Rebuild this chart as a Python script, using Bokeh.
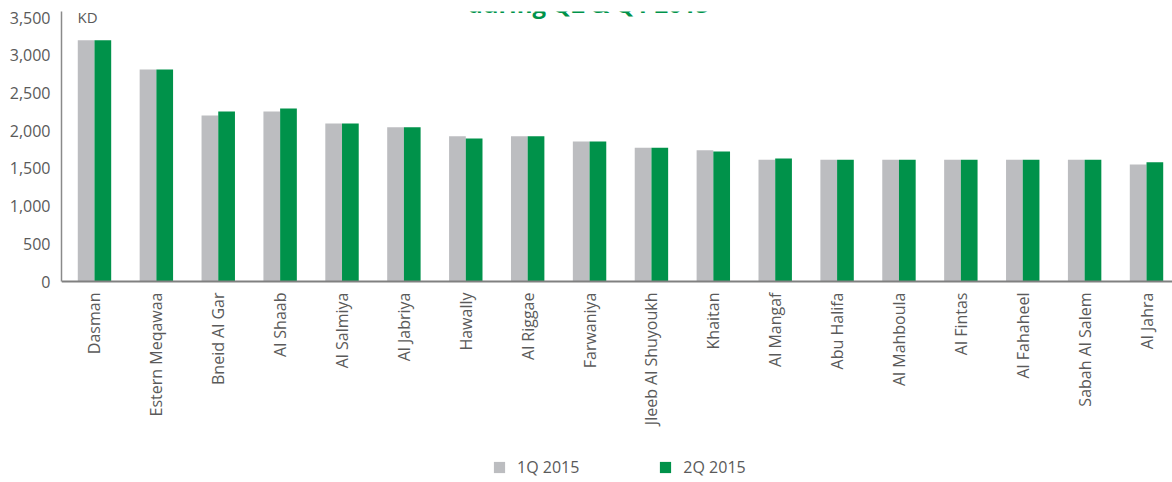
import math
from bokeh.plotting import figure
from bokeh.models import (Range1d, FixedTicker, Legend, LegendItem, Label,
                          ColumnDataSource, NumeralTickFormatter)
from bokeh.transform import dodge
from bokeh.embed import file_html
from bokeh.resources import INLINE

districts = ["Dasman", "Estern Meqawaa", "Bneid Al Gar", "Al Shaab", "Al Salmiya",
             "Al Jabriya", "Hawally", "Al Riggae", "Farwaniya", "Jleeb Al Shuyoukh",
             "Khaitan", "Al Mangaf", "Abu Halifa", "Al Mahboula", "Al Fintas",
             "Al Fahaheel", "Sabah Al Salem", "Al Jahra"]
q1_2015 = [3200, 2810, 2200, 2255, 2095, 2045, 1925, 1925, 1855, 1775,
           1740, 1615, 1615, 1615, 1615, 1615, 1615, 1550]
q2_2015 = [3200, 2810, 2255, 2295, 2095, 2045, 1895, 1925, 1855, 1775,
           1725, 1630, 1615, 1615, 1615, 1615, 1615, 1580]
y_ticks = [0, 500, 1000, 1500, 2000, 2500, 3000, 3500]
series_labels = ["1Q 2015", "2Q 2015"]
title_text = "during Q2 & Q1 2015"
unit_text = "KD"

GRAY = "#bcbdc0"
GREEN = "#00924a"
TEXT = "#5a5a5a"
FONT = "Open Sans"

idx = list(range(len(districts)))
src = ColumnDataSource(dict(x=idx, q1=q1_2015, q2=q2_2015))

p = figure(width=1172, height=482,
           x_range=Range1d(-0.533, 17.42), y_range=Range1d(-2665, 3580),
           output_backend="svg", toolbar_location=None,
           min_border_left=61, min_border_right=0,
           min_border_top=11, min_border_bottom=0)
p.outline_line_color = None
p.xgrid.visible = False
p.ygrid.visible = False
p.background_fill_color = None
p.border_fill_color = "white"

r1 = p.vbar(x=dodge("x", -0.135, range=p.x_range), top="q1", width=0.27,
            source=src, fill_color=GRAY, line_color=None)
r2 = p.vbar(x=dodge("x", 0.135, range=p.x_range), top="q2", width=0.27,
            source=src, fill_color=GREEN, line_color=None)

# y axis
p.yaxis.ticker = FixedTicker(ticks=y_ticks)
p.yaxis.formatter = NumeralTickFormatter(format="0,0")
p.yaxis.bounds = (0, 3580)
p.yaxis.major_tick_line_color = None
p.yaxis.minor_tick_line_color = None
p.yaxis.major_tick_out = 0
p.yaxis.major_tick_in = 0
p.yaxis.axis_line_color = "#8a8a8a"
p.yaxis.axis_line_width = 1.5
p.yaxis.major_label_standoff = 11
p.yaxis.major_label_text_font = FONT
p.yaxis.major_label_text_font_size = "16px"
p.yaxis.major_label_text_color = TEXT

# x axis, pinned at value 0 inside the frame
p.xaxis.fixed_location = 0
p.xaxis.ticker = FixedTicker(ticks=idx)
p.xaxis.major_label_overrides = {i: d for i, d in zip(idx, districts)}
p.xaxis.major_label_orientation = math.pi / 2
p.xaxis.major_tick_line_color = None
p.xaxis.minor_tick_line_color = None
p.xaxis.major_tick_out = 0
p.xaxis.major_tick_in = 0
p.xaxis.axis_line_color = "#808080"
p.xaxis.axis_line_width = 2
p.xaxis.major_label_standoff = 11
p.xaxis.major_label_text_font = FONT
p.xaxis.major_label_text_font_size = "16px"
p.xaxis.major_label_text_color = TEXT

legend = Legend(items=[LegendItem(label=series_labels[0], renderers=[r1]),
                       LegendItem(label=series_labels[1], renderers=[r2])],
                orientation="horizontal", location=(431, 4),
                glyph_width=14, glyph_height=14, label_standoff=11, spacing=79,
                padding=0, margin=0, border_line_color=None,
                background_fill_alpha=0, label_text_font=FONT,
                label_text_font_size="16px", label_text_color=TEXT)
p.add_layout(legend)

p.add_layout(Label(x=527, y=479, x_units="screen", y_units="screen",
                   text=title_text, text_align="center", text_baseline="alphabetic",
                   text_font=FONT, text_font_style="bold", text_font_size="24px",
                   text_color=GREEN))
p.add_layout(Label(x=16, y=466, x_units="screen", y_units="screen",
                   text=unit_text, text_align="left", text_baseline="alphabetic",
                   text_font=FONT, text_font_size="15px", text_color=TEXT))

open("out.html", "w").write(file_html(p, INLINE))
